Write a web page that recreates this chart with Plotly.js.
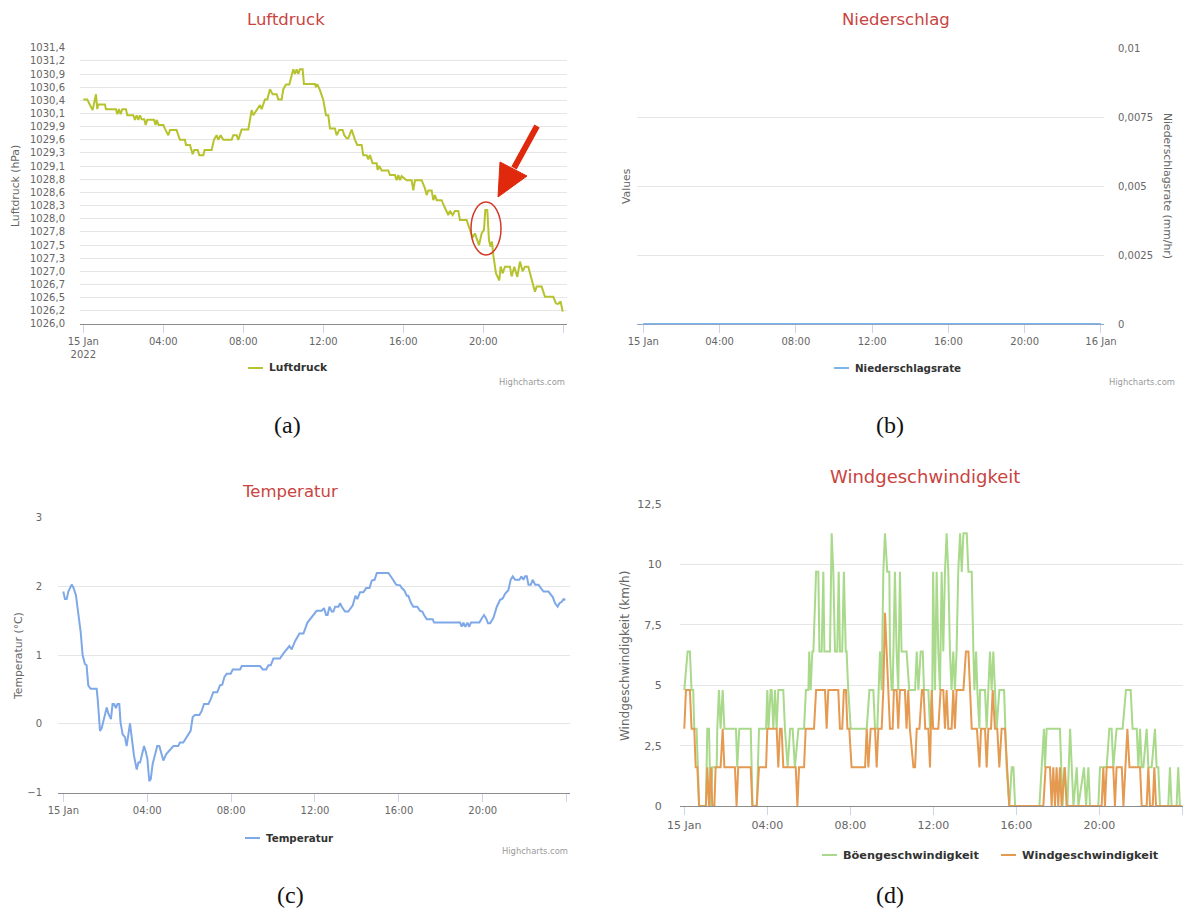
<!DOCTYPE html>
<html><head><meta charset="utf-8">
<script src="https://cdn.plot.ly/plotly-3.0.1.min.js"></script>
<style>html,body{margin:0;padding:0;background:#fff}#chart{width:1184px;height:909px}</style>
</head><body><div id="chart"></div>
<script>
// ---------- DATA (hours after 15 Jan 2022 00:00) ----------
const timeTicks = [0, 4, 8, 12, 16, 20, 24];
const timeTickLabelsA = ['15 Jan<br>2022', '04:00', '08:00', '12:00', '16:00', '20:00', ''];
const timeTickLabelsB = ['15 Jan', '04:00', '08:00', '12:00', '16:00', '20:00', '16 Jan'];
const timeTickLabelsCD = ['15 Jan', '04:00', '08:00', '12:00', '16:00', '20:00', ''];

const pressureTickLabels = ['1026,0','1026,2','1026,5','1026,7','1027,0','1027,3','1027,5','1027,8','1028,0','1028,3','1028,6','1028,8','1029,1','1029,3','1029,6','1029,9','1030,1','1030,4','1030,6','1030,9','1031,2','1031,4'];
const pressureHours = [0,0.2,0.333,0.467,0.633,0.7,0.75,1.083,1.133,1.633,1.7,1.783,1.867,1.95,2.133,2.2,2.5,2.583,2.667,2.75,2.833,2.917,3.05,3.117,3.2,3.533,3.617,3.667,3.767,4.0,4.117,4.25,4.333,4.667,4.75,4.833,5.083,5.133,5.333,5.467,5.55,5.717,5.8,6.0,6.067,6.417,6.533,6.667,6.75,6.867,7.0,7.417,7.5,7.667,7.75,7.917,8.25,8.417,8.5,8.667,8.833,8.917,9.083,9.2,9.333,9.467,9.667,9.75,9.917,10.0,10.133,10.3,10.5,10.583,10.667,10.75,10.833,10.967,11.033,11.583,11.633,11.7,11.833,12.0,12.133,12.25,12.333,12.583,12.667,12.8,12.967,13.05,13.167,13.25,13.417,13.583,13.7,13.917,14.0,14.167,14.25,14.333,14.467,14.667,14.717,14.8,14.917,15.25,15.333,15.583,15.667,15.75,15.833,15.917,16.167,16.417,16.5,16.583,16.917,17.083,17.167,17.25,17.417,17.5,17.583,17.667,17.917,18.033,18.167,18.25,18.333,18.467,18.583,18.75,18.833,19.167,19.333,19.467,19.583,19.783,19.917,20.033,20.1,20.2,20.283,20.367,20.433,20.5,20.633,20.8,20.867,20.967,21.083,21.333,21.417,21.55,21.7,21.833,21.967,22.083,22.25,22.5,22.583,22.667,22.917,23.083,23.5,23.633,23.75,23.867,23.967];
const pressureValues = [1030.39,1030.39,1030.28,1030.18,1030.49,1030.20,1030.29,1030.29,1030.20,1030.20,1030.10,1030.20,1030.10,1030.20,1030.20,1030.08,1030.08,1029.99,1030.08,1029.99,1030.08,1030.00,1030.00,1029.89,1029.99,1029.99,1029.89,1029.99,1029.89,1029.89,1029.79,1029.69,1029.79,1029.79,1029.69,1029.60,1029.60,1029.50,1029.50,1029.32,1029.40,1029.40,1029.30,1029.30,1029.40,1029.40,1029.60,1029.69,1029.60,1029.69,1029.60,1029.60,1029.69,1029.69,1029.60,1029.80,1029.80,1030.18,1030.08,1030.18,1030.28,1030.20,1030.39,1030.39,1030.59,1030.49,1030.49,1030.39,1030.39,1030.59,1030.68,1030.68,1030.98,1030.89,1030.98,1030.89,1030.98,1030.98,1030.69,1030.69,1030.63,1030.69,1030.57,1030.38,1030.08,1030.08,1029.82,1029.82,1029.69,1029.79,1029.79,1029.69,1029.63,1029.63,1029.80,1029.60,1029.50,1029.50,1029.30,1029.30,1029.22,1029.30,1029.14,1029.14,1029.01,1029.09,1029.00,1029.00,1028.91,1028.91,1028.81,1028.91,1028.81,1028.89,1028.81,1028.81,1028.61,1028.81,1028.81,1028.65,1028.52,1028.61,1028.61,1028.42,1028.52,1028.42,1028.42,1028.31,1028.21,1028.13,1028.21,1028.13,1028.21,1028.21,1028.03,1028.03,1027.84,1027.69,1027.77,1027.54,1027.77,1027.84,1028.23,1028.23,1027.64,1027.51,1027.61,1027.35,1026.99,1026.85,1027.12,1026.99,1027.12,1027.12,1026.93,1027.12,1026.92,1027.22,1027.03,1027.12,1027.12,1026.73,1026.63,1026.73,1026.73,1026.53,1026.53,1026.40,1026.39,1026.44,1026.24];

const rainTickVals = [0, 0.0025, 0.005, 0.0075, 0.01];
const rainTickLabels = ['0', '0,0025', '0,005', '0,0075', '0,01'];
const rainHours = [0,1,2,3,4,5,6,7,8,9,10,11,12,13,14,15,16,17,18,19,20,21,22,23,24];
const rainValues = [0,0,0,0,0,0,0,0,0,0,0,0,0,0,0,0,0,0,0,0,0,0,0,0,0];

const tempTickVals = [-1, 0, 1, 2, 3];
const tempTickLabels = ['−1', '0', '1', '2', '3'];
const tempHours = [0,0.08,0.16,0.24,0.4,0.48,0.6,0.72,0.83,0.92,1.03,1.11,1.19,1.3,1.59,1.64,1.75,1.83,1.94,2.07,2.15,2.27,2.35,2.42,2.51,2.58,2.67,2.73,2.83,2.94,3.02,3.1,3.18,3.26,3.37,3.5,3.58,3.66,3.74,3.85,3.94,4.01,4.1,4.17,4.26,4.37,4.48,4.58,4.69,4.77,4.9,4.98,5.09,5.17,5.25,5.48,5.56,5.72,5.85,5.96,6.07,6.17,6.28,6.49,6.6,6.71,6.92,7.03,7.15,7.34,7.47,7.58,7.68,7.79,7.98,8.08,8.43,8.51,9.38,9.51,9.67,9.78,9.89,10.02,10.33,10.49,10.65,10.78,10.89,11.05,11.26,11.45,11.64,11.8,11.92,12.08,12.32,12.43,12.53,12.6,12.69,12.8,12.88,12.96,13.12,13.2,13.28,13.43,13.59,13.67,13.8,13.93,14.02,14.15,14.31,14.44,14.6,14.71,14.84,14.95,15.5,15.66,15.77,15.87,16.06,16.14,16.25,16.38,16.45,16.57,16.69,16.88,17.01,17.12,17.2,17.33,17.61,17.68,18.92,19.0,19.08,19.17,19.27,19.35,19.44,19.84,19.95,20.06,20.16,20.25,20.35,20.51,20.67,20.83,20.95,21.07,21.22,21.33,21.43,21.54,21.75,21.84,21.94,22.02,22.1,22.18,22.29,22.38,22.5,22.66,22.77,22.9,23.13,23.24,23.34,23.45,23.57,23.66,23.77,23.85,23.94];
const tempValues = [1.92,1.81,1.81,1.92,2.02,1.98,1.87,1.58,1.33,1.0,0.87,0.85,0.56,0.51,0.51,0.36,-0.10,-0.06,0.07,0.24,0.15,0.07,0.29,0.29,0.23,0.29,0.29,0.02,-0.15,-0.19,-0.32,-0.12,0.01,-0.19,-0.46,-0.66,-0.56,-0.56,-0.46,-0.32,-0.41,-0.51,-0.83,-0.80,-0.58,-0.44,-0.32,-0.32,-0.44,-0.53,-0.44,-0.41,-0.37,-0.35,-0.32,-0.32,-0.27,-0.27,-0.21,-0.17,-0.10,0.10,0.13,0.13,0.19,0.29,0.29,0.36,0.46,0.46,0.56,0.57,0.68,0.73,0.73,0.79,0.79,0.84,0.84,0.79,0.79,0.85,0.85,0.95,0.95,1.02,1.09,1.13,1.08,1.20,1.31,1.31,1.47,1.53,1.59,1.64,1.64,1.68,1.58,1.58,1.70,1.63,1.63,1.70,1.70,1.75,1.70,1.63,1.63,1.67,1.72,1.86,1.81,1.91,1.91,1.97,1.97,2.08,2.09,2.19,2.19,2.12,2.07,2.02,2.01,1.97,1.94,1.86,1.86,1.76,1.70,1.70,1.64,1.63,1.58,1.52,1.52,1.47,1.47,1.41,1.47,1.41,1.47,1.41,1.47,1.47,1.53,1.58,1.53,1.46,1.46,1.54,1.70,1.80,1.82,1.89,1.94,2.09,2.14,2.09,2.09,2.14,2.09,2.14,2.14,2.02,2.02,2.09,2.02,2.02,1.97,1.92,1.92,1.87,1.84,1.75,1.70,1.75,1.77,1.81,1.80];

const windTickVals = [0, 2.5, 5, 7.5, 10, 12.5];
const windTickLabels = ['0', '2,5', '5', '7,5', '10', '12,5'];
const gustHours = [0,0.16,0.27,0.35,0.43,0.48,0.59,0.72,1.04,1.11,1.19,1.27,1.35,1.56,1.59,1.67,1.75,1.85,1.93,2.49,2.55,2.65,3.2,3.29,3.49,3.6,3.94,4.0,4.06,4.16,4.21,4.29,4.37,4.45,4.53,4.77,4.85,4.98,5.1,5.22,5.33,5.5,5.77,5.86,5.98,6.02,6.09,6.17,6.22,6.35,6.46,6.51,6.62,6.7,6.75,7.02,7.1,7.18,7.26,7.37,7.44,7.5,7.61,7.69,7.78,7.82,7.9,8.02,8.79,8.92,9.11,9.19,9.3,9.43,9.51,9.59,9.67,9.78,9.88,9.91,9.99,10.04,10.15,10.23,10.31,10.39,10.47,10.71,10.84,11.12,11.2,11.28,11.39,11.49,11.55,11.76,11.84,11.95,11.99,12.08,12.16,12.24,12.32,12.4,12.48,12.56,12.64,12.72,12.8,12.88,12.96,13.04,13.12,13.2,13.29,13.37,13.45,13.61,13.69,13.85,13.93,13.98,14.06,14.12,14.22,14.25,14.49,14.57,14.65,14.73,14.81,14.89,14.97,15.05,15.18,15.41,15.53,15.66,15.78,15.86,15.94,17.11,17.22,17.33,17.38,17.46,18.1,18.18,18.23,18.31,18.46,18.59,18.67,18.75,18.91,18.99,19.26,19.36,19.47,19.55,19.95,20.03,20.35,20.48,20.59,20.67,20.83,21.12,21.28,21.51,21.6,21.8,21.88,21.96,22.04,22.12,22.28,22.36,22.52,22.68,22.76,22.84,22.92,23.32,23.4,23.48,23.72,23.8,23.88,23.96];
const gustValues = [4.8,6.4,6.4,4.8,4.8,3.2,3.2,0,0,3.2,3.2,0,1.6,1.6,3.2,4.8,3.2,4.8,3.2,3.2,1.6,3.2,3.2,0,0,3.2,3.2,4.8,3.2,4.8,4.8,3.2,4.8,3.2,4.8,4.8,3.2,1.6,3.2,3.2,1.6,3.2,3.2,4.8,4.8,6.4,4.8,6.4,6.4,9.7,9.7,6.4,6.4,9.7,6.4,6.4,11.3,9.7,6.4,6.4,9.7,6.4,6.4,9.7,6.4,6.4,4.8,3.2,3.2,4.8,4.8,3.2,3.2,6.4,4.8,9.7,11.3,9.7,9.7,6.4,4.8,4.8,9.7,6.4,4.8,9.7,6.4,6.4,4.8,4.8,6.4,4.8,6.4,6.4,4.8,4.8,3.2,4.8,9.7,4.8,9.7,6.4,4.8,9.7,6.4,9.7,11.3,9.7,6.4,4.8,6.4,4.8,6.4,9.7,11.3,9.7,11.3,11.3,9.7,9.7,6.4,4.8,6.4,4.8,3.2,4.8,4.8,3.2,4.8,6.4,4.8,6.4,4.8,3.2,4.8,4.8,1.6,0,1.6,1.6,0,0,1.6,3.2,1.6,3.2,3.2,1.6,0,1.6,0,3.2,1.6,0,1.6,0,1.6,0,1.6,0,0,1.6,1.6,3.2,3.2,1.6,3.2,3.2,4.8,4.8,3.2,3.2,1.6,3.2,1.6,1.6,3.2,1.6,1.6,3.2,1.6,1.6,0,0,1.6,0,0,1.6,0,0];
const windHours = [0,0.08,0.27,0.35,0.48,0.55,0.63,0.71,1.04,1.11,1.19,1.29,1.35,1.45,1.51,1.75,1.85,1.93,2.44,2.52,2.6,3.2,3.28,3.49,3.6,3.94,4.0,4.45,4.53,4.61,4.69,4.77,5.37,5.45,5.53,5.77,5.85,6.25,6.35,6.78,6.86,6.94,7.42,7.5,7.61,7.69,7.79,7.86,7.95,8.06,8.71,8.79,8.87,8.98,9.19,9.27,9.35,9.51,9.59,9.67,9.75,9.83,9.91,10.04,10.1,10.23,10.31,10.39,10.63,10.71,10.79,10.87,11.04,11.12,11.2,11.33,11.45,11.53,11.61,11.76,11.84,11.92,11.99,12.24,12.35,12.48,12.56,12.64,12.72,12.88,12.96,13.04,13.12,13.45,13.57,13.69,13.77,13.85,14.1,14.22,14.3,14.49,14.57,14.65,14.78,14.86,14.97,15.08,15.18,15.29,15.45,15.66,17.3,17.41,17.62,17.7,17.78,17.86,17.94,18.02,18.1,18.18,18.34,18.42,20.11,20.19,20.27,20.35,20.67,20.75,20.83,21.08,21.16,21.24,21.35,21.45,21.96,22.04,22.28,22.36,22.44,22.57,22.65,22.73,23.97];
const windValues = [3.2,4.8,4.8,3.2,3.2,1.6,1.6,0,0,1.6,0,1.6,0,0,1.6,1.6,3.2,1.6,1.6,0,1.6,1.6,0,0,1.6,1.6,3.2,3.2,1.6,3.2,3.2,1.6,1.6,0,1.6,1.6,3.2,3.2,4.8,4.8,3.2,4.8,4.8,3.2,3.2,4.8,4.8,3.2,3.2,1.6,1.6,3.2,1.6,3.2,3.2,1.6,3.2,3.2,4.8,8.0,6.4,4.8,3.2,3.2,4.8,4.8,3.2,4.8,4.8,3.2,4.8,3.2,1.6,1.6,3.2,3.2,4.8,4.8,3.2,3.2,1.6,4.8,3.2,3.2,4.8,4.8,3.2,4.8,3.2,3.2,4.8,3.2,4.8,4.8,6.4,6.4,4.8,3.2,3.2,1.6,3.2,3.2,1.6,3.2,3.2,4.8,3.2,3.2,1.6,3.2,3.2,0,0,1.6,1.6,0,1.6,0,1.6,0,1.6,0,1.6,0,0,1.6,0,1.6,1.6,0,1.6,1.6,0,1.6,3.2,1.6,1.6,0,0,1.6,0,0,1.6,0,0];

// ---------- LAYOUT HELPERS ----------
const W = 1184, H = 909;
const fx = p => p / W;
const fy = p => 1 - p / H;
const FONT = 'DejaVu Sans, Verdana, sans-serif';
const TITLE_COL = '#c9443f';
const AXIS_TXT = '#666666';

const COL_P = '#b6c32e', COL_R = '#7cb5ec', COL_T = '#7ea8e8', COL_G = '#a9d98a', COL_W = '#e59a52';

function xAxis(dom, range, labels, anchor, size) {
  return {domain: [fx(dom[0]), fx(dom[1])], range: range, anchor: anchor,
    tickmode: 'array', tickvals: timeTicks, ticktext: labels,
    ticks: 'outside', ticklen: 8, tickwidth: 1, tickcolor: '#ccd6eb',
    showline: true, linecolor: '#8c8c8c', linewidth: 1.3,
    showgrid: false, zeroline: false, fixedrange: true,
    tickfont: {family: FONT, size: size, color: AXIS_TXT}};
}
function yAxis(dom, range, vals, labels, anchor, size, standoff, side) {
  return {domain: [fy(dom[1]), fy(dom[0])], range: range, anchor: anchor, side: side || 'left',
    tickmode: 'array', tickvals: vals, ticktext: labels,
    ticks: 'outside', ticklen: standoff, tickcolor: 'rgba(0,0,0,0)',
    showgrid: true, gridcolor: '#e6e6e6', gridwidth: 1, zeroline: false, showline: false, fixedrange: true,
    tickfont: {family: FONT, size: size, color: AXIS_TXT}};
}

const pressureTickVals = pressureTickLabels.map((_, k) => 1026 + k * 5.4 / 21);

const traces = [
  {x: pressureHours, y: pressureValues, xaxis: 'x', yaxis: 'y', type: 'scatter', mode: 'lines', name: 'Luftdruck',
   line: {color: COL_P, width: 2}, showlegend: false},
  {x: rainHours, y: rainValues, xaxis: 'x2', yaxis: 'y2', type: 'scatter', mode: 'lines', name: 'Niederschlagsrate',
   line: {color: COL_R, width: 2}, showlegend: false, cliponaxis: false},
  {x: tempHours, y: tempValues, xaxis: 'x3', yaxis: 'y3', type: 'scatter', mode: 'lines', name: 'Temperatur',
   line: {color: COL_T, width: 2}, showlegend: false},
  {x: gustHours, y: gustValues, xaxis: 'x4', yaxis: 'y4', type: 'scatter', mode: 'lines', name: 'Böengeschwindigkeit',
   line: {color: COL_G, width: 2}, showlegend: false, cliponaxis: false},
  {x: windHours, y: windValues, xaxis: 'x4', yaxis: 'y4', type: 'scatter', mode: 'lines', name: 'Windgeschwindigkeit',
   line: {color: COL_W, width: 2}, showlegend: false, cliponaxis: false}
];

function txt(text, x, y, size, opts) {
  return Object.assign({text: text, x: fx(x), y: fy(y), xref: 'paper', yref: 'paper', showarrow: false,
    xanchor: 'center', yanchor: 'middle', font: {family: FONT, size: size, color: AXIS_TXT}}, opts || {});
}
function legendItem(label, color, x0, y, size) {
  annotations.push(txt('<b>' + label + '</b>', x0 + 19, y, size, {xanchor: 'left', font: {family: FONT, size: size, color: '#333333'}}));
  shapes.push({type: 'line', xref: 'paper', yref: 'paper', x0: fx(x0), x1: fx(x0 + 15), y0: fy(y), y1: fy(y), line: {color: color, width: 2}});
}

const annotations = [], shapes = [];
// titles
annotations.push(txt('Luftdruck', 286, 20, 16.5, {font: {family: FONT, size: 16.5, color: TITLE_COL}}));
annotations.push(txt('Niederschlag', 896, 20, 16.5, {font: {family: FONT, size: 16.5, color: TITLE_COL}}));
annotations.push(txt('Temperatur', 290, 491, 16.5, {font: {family: FONT, size: 16.5, color: TITLE_COL}}));
annotations.push(txt('Windgeschwindigkeit', 925, 476, 18, {font: {family: FONT, size: 18, color: TITLE_COL}}));
// axis titles
annotations.push(txt('Luftdruck (hPa)', 15, 186, 10.8, {textangle: -90}));
annotations.push(txt('Values', 626, 186, 10.8, {textangle: -90}));
annotations.push(txt('Niederschlagsrate (mm/hr)', 1168, 186, 10.8, {textangle: 90}));
annotations.push(txt('Temperatur (°C)', 18, 656, 10.8, {textangle: -90}));
annotations.push(txt('Windgeschwindigkeit (km/h)', 625, 656, 12, {textangle: -90}));
// legends
legendItem('Luftdruck', COL_P, 248, 368, 10.7);
legendItem('Niederschlagsrate', COL_R, 834, 368, 10.3);
legendItem('Temperatur', COL_T, 245, 838, 10.3);
legendItem('Böengeschwindigkeit', COL_G, 822, 855, 11.3);
legendItem('Windgeschwindigkeit', COL_W, 1001, 855, 11.3);
// credits
annotations.push(txt('Highcharts.com', 567, 382, 8.4, {xanchor: 'right', font: {family: FONT, size: 8.4, color: '#999999'}}));
annotations.push(txt('Highcharts.com', 1177, 382, 8.4, {xanchor: 'right', font: {family: FONT, size: 8.4, color: '#999999'}}));
annotations.push(txt('Highcharts.com', 570, 851, 8.4, {xanchor: 'right', font: {family: FONT, size: 8.4, color: '#999999'}}));
// captions
const CAP = {family: 'Liberation Serif, DejaVu Serif, serif', size: 24, color: '#111111'};
annotations.push(txt('(a)', 287, 425, 24, {font: CAP}));
annotations.push(txt('(b)', 890, 425, 24, {font: CAP}));
annotations.push(txt('(c)', 290, 895, 24, {font: CAP}));
annotations.push(txt('(d)', 890, 895, 24, {font: CAP}));

// highlight: ellipse + arrow in panel (a)
shapes.push({type: 'circle', xref: 'paper', yref: 'paper', x0: fx(471), x1: fx(501), y0: fy(255), y1: fy(202),
  line: {color: '#d23a2a', width: 1.5}, fillcolor: 'rgba(0,0,0,0)'});
shapes.push({type: 'line', xref: 'paper', yref: 'paper', x0: fx(537), y0: fy(126), x1: fx(514), y1: fy(168),
  line: {color: '#e0290c', width: 6}});
shapes.push({type: 'path', xref: 'paper', yref: 'paper',
  path: `M ${fx(498)} ${fy(197)} L ${fx(500)} ${fy(162)} L ${fx(527)} ${fy(176)} Z`,
  fillcolor: '#e0290c', line: {color: '#e0290c', width: 1}});

const layout = {
  width: W, height: H, margin: {l: 0, r: 0, t: 0, b: 0}, paper_bgcolor: '#ffffff', plot_bgcolor: '#ffffff',
  showlegend: false, font: {family: FONT},
  xaxis:  xAxis([80, 567], [-0.165, 24.185], timeTickLabelsA, 'y', 10),
  yaxis:  yAxis([47.7, 324], [1025.999, 1031.401], pressureTickVals, pressureTickLabels, 'x', 10, 12),
  xaxis2: xAxis([637, 1104], [-0.33, 24.16], timeTickLabelsB, 'y2', 10),
  yaxis2: yAxis([48, 324], [0, 0.01001], rainTickVals, rainTickLabels, 'x2', 10, 11, 'right'),
  xaxis3: xAxis([58, 570], [-0.253, 24.16], timeTickLabelsCD, 'y3', 10),
  yaxis3: yAxis([517, 793], [-1.0005, 3.0005], tempTickVals, tempTickLabels, 'x3', 10, 13),
  xaxis4: xAxis([680, 1183], [-0.207, 24.03], timeTickLabelsCD, 'y4', 11),
  yaxis4: yAxis([504, 806], [0, 12.51], windTickVals, windTickLabels, 'x4', 11, 15),
  annotations: annotations, shapes: shapes
};
layout.xaxis2.linecolor = '#8fa6c8';

Plotly.newPlot('chart', traces, layout, {displayModeBar: false, staticPlot: true});
</script>
</body></html>
